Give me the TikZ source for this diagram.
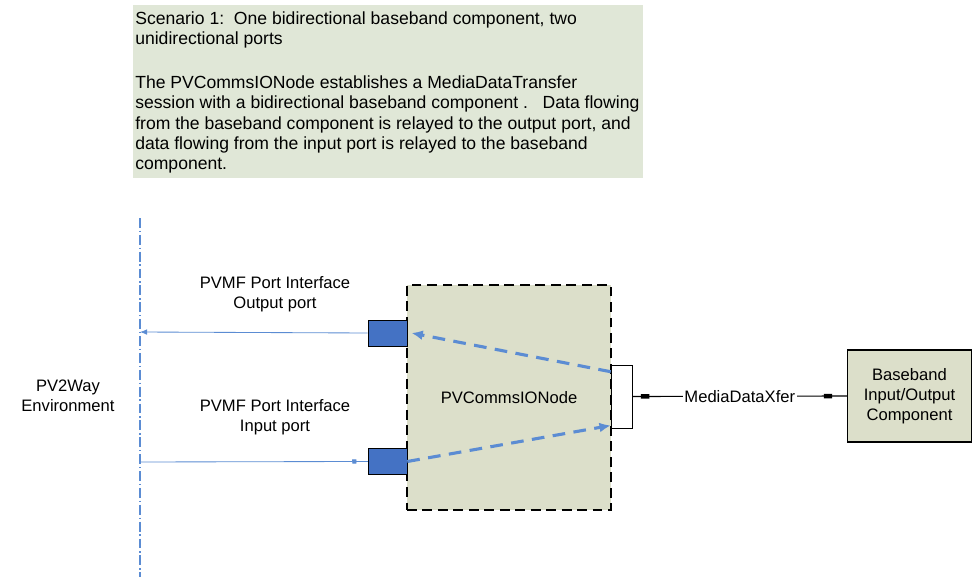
\documentclass[tikz,border=0pt]{standalone}
\usepackage{fontspec}
\setmainfont{Liberation Sans}
\usepackage{xcolor}
\usetikzlibrary{arrows.meta, decorations.markings}

\definecolor{notegreen}{HTML}{E0E7D7}
\definecolor{nodegreen}{HTML}{DCDFCA}
\definecolor{portblue}{HTML}{4472C4}
\definecolor{lineblue}{HTML}{5B8CD3}

\begin{document}
\begin{tikzpicture}[x=0.025cm, y=-0.025cm,
    font=\fontsize{11.8}{14.2}\selectfont,
    label/.style={align=center, inner sep=0pt},
    port/.style={draw=black, fill=portblue, minimum width=0.975cm, minimum height=0.66cm, inner sep=0pt},
    portline/.style={draw=lineblue, line width=0.6pt},
    flow/.style={draw=lineblue, line width=2.2pt, dash pattern=on 9pt off 6pt, -{Latex[length=8pt, width=7pt]}},
    xferend/.style={postaction={decorate, decoration={markings,
        mark=at position 0.06 with {\fill (-3pt,-1.6pt) rectangle (3pt,1.6pt);},
        mark=at position 0.91 with {\fill (-3pt,-1.6pt) rectangle (3pt,1.6pt);}}}}]
    \useasboundingbox (0,0) rectangle (972,577);

    % Scenario note
    \fill[notegreen] (133,5) rectangle (643,178);
    \node[anchor=north west, align=left, inner sep=0pt,
        font=\fontsize{12.5}{14.3}\selectfont] (note) at (135,11)
        {Scenario 1:\ \ One bidirectional baseband component, two\\
         unidirectional ports\\[17.5pt]
         The PVCommsIONode establishes a MediaDataTransfer\\
         session with a bidirectional baseband component .\ \ \ Data flowing\\
         from the baseband component is relayed to the output port, and\\
         data flowing from the input port is relayed to the baseband\\
         component.};

    % Environment boundary
    \draw[lineblue, line width=1.2pt, dash pattern=on 7pt off 2pt on 1pt off 2pt] (140,218) -- (140,577);
    \node[label] (env) at (68,396) {PV2Way\\Environment};
    \coordinate (envout) at (140,332);
    \coordinate (envin) at (140,462);

    % PVCommsIONode
    \node[draw=black, fill=nodegreen, line width=2pt, dash pattern=on 7pt off 4pt,
        minimum width=5.1cm, minimum height=5.625cm] (comms) at (509,397.5) {PVCommsIONode};
    \node[port] (outport) at (387.5,333) {};
    \node[port] (inport) at (387.5,461.5) {};
    \node[draw=black, fill=white, minimum width=0.525cm, minimum height=1.575cm, inner sep=0pt] (iface) at (621.5,396.5) {};

    % Port interfaces
    \node[label] (outlabel) at (275,294) {PVMF Port Interface\\Output port};
    \node[label] (inlabel) at (275,417) {PVMF Port Interface\\Input port};
    \draw[portline, -{Latex[length=5pt, width=4pt]}] (outport.west) -- (envout);
    \draw[portline, -{Square[length=3pt, width=3pt]}] (envin) -- ([xshift=-8pt]inport.west);
    \draw[portline] ([xshift=-8pt]inport.west) -- (inport.west);

    % Data flow inside the node
    \draw[flow] ([yshift=-5pt]iface.north west) -- ([xshift=3pt]outport.east);
    \draw[flow] (inport.east) -- ([yshift=2pt]iface.south west);

    % Baseband component
    \node[draw=black, fill=nodegreen, line width=0.8pt, minimum width=3.08cm, minimum height=2.3cm,
        align=center] (baseband) at (909.5,396) {Baseband\\Input/Output\\Component};
    \draw[black, line width=0.8pt, xferend] (iface.east) -- node[fill=white, inner sep=1pt] (xfer) {MediaDataXfer} (baseband.west);
\end{tikzpicture}
\end{document}
